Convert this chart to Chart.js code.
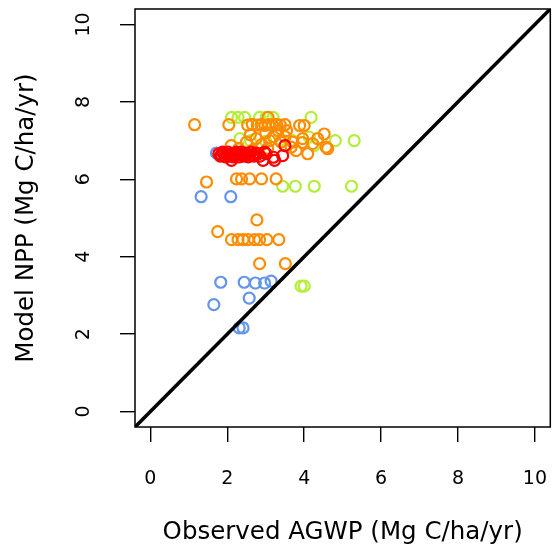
<!DOCTYPE html>
<html><head><meta charset="utf-8">
<script src="https://cdn.jsdelivr.net/npm/chart.js@4.4.1/dist/chart.umd.min.js"></script>
<style>html,body{margin:0;padding:0;background:#fff;overflow:hidden}</style>
</head><body>
<canvas id="c" width="558" height="557"></canvas>
<script>
const xTickValues = [0, 2, 4, 6, 8, 10];
const yTickValues = [0, 2, 4, 6, 8, 10];
const axisMin = -0.4, axisMax = 10.4;
const xTitle = 'Observed AGWP (Mg C/ha/yr)';
const yTitle = 'Model NPP (Mg C/ha/yr)';

const blueX = [1.32, 2.09, 1.72, 1.83, 2.44, 2.73, 2.97, 3.14, 2.57, 1.65, 2.31, 2.41];
const blueY = [5.55, 5.55, 6.68, 3.34, 3.34, 3.32, 3.32, 3.37, 2.93, 2.76, 2.16, 2.16];

const greenX = [2.11, 2.28, 2.45, 2.84, 3.01, 3.19, 4.18, 2.33, 2.6, 3.0, 3.4, 3.7, 4.13, 4.26, 4.81, 5.30, 3.44, 3.77, 4.26, 5.23, 3.92, 4.0];
const greenY = [7.6, 7.6, 7.6, 7.6, 7.6, 7.6, 7.6, 7.05, 7.0, 6.98, 7.02, 7.0, 7.09, 6.87, 7.0, 7.0, 5.82, 5.82, 5.82, 5.82, 3.24, 3.24];

const orangeX = [1.15, 2.04, 2.53, 2.65, 2.78, 2.88, 2.98, 3.08, 3.18, 3.28, 3.38, 3.5, 3.88, 4.0, 3.06, 3.32, 3.54, 3.96, 4.52, 2.1,
  2.5, 2.75, 3.1, 3.4, 3.7, 4.22, 4.35, 4.57, 4.09, 3.79, 3.66, 4.61, 2.3, 2.9, 3.2, 2.6, 3.0, 3.5, 3.95, 2.35,
  2.65, 3.05, 1.46, 2.24, 2.37, 2.58, 2.89, 3.27, 2.77, 1.75, 2.11, 2.28, 2.41, 2.54, 2.71, 2.84, 3.03, 3.34, 2.84, 3.51];
const orangeY = [7.41, 7.41, 7.4, 7.42, 7.4, 7.41, 7.39, 7.41, 7.4, 7.42, 7.4, 7.41, 7.39, 7.39, 7.6, 7.26, 7.26, 7.05, 7.17, 6.87,
  6.96, 7.05, 7.0, 6.96, 6.96, 6.92, 7.05, 6.83, 6.66, 6.74, 6.83, 6.79, 6.8, 6.9, 7.1, 7.15, 7.2, 7.1, 6.95, 6.7,
  6.75, 6.8, 5.93, 6.01, 6.01, 6.01, 6.01, 6.01, 4.95, 4.65, 4.44, 4.44, 4.44, 4.44, 4.44, 4.44, 4.44, 4.44, 3.82, 3.82];

const redX = [1.78, 1.85, 1.92, 1.98, 2.05, 2.12, 2.2, 2.28, 2.35, 2.42, 2.5, 2.58, 2.66, 2.75, 2.85, 2.11, 2.97, 2.93, 3.01, 3.2, 3.23, 3.44, 3.5,
  1.82, 1.88, 1.95, 2.02, 2.08, 2.15, 2.24, 2.31, 2.38, 2.46, 2.54, 2.62, 2.7, 2.8];
const redY = [6.66, 6.62, 6.68, 6.64, 6.6, 6.66, 6.62, 6.64, 6.7, 6.6, 6.66, 6.62, 6.64, 6.68, 6.6, 6.49, 6.70, 6.49, 6.66, 6.57, 6.49, 6.61, 6.87,
  6.6, 6.7, 6.58, 6.7, 6.64, 6.58, 6.7, 6.58, 6.64, 6.68, 6.58, 6.7, 6.6, 6.66];

const toPts = (xs, ys) => xs.map((x, i) => ({x: x, y: ys[i]}));
const oneToOne = [{x: axisMin, y: axisMin}, {x: axisMax, y: axisMax}];

const FONT = 'DejaVu Sans';
const ptStyle = c => ({pointStyle: 'circle', pointRadius: 5.5, pointHoverRadius: 5.5, pointBorderWidth: 2.2,
  borderColor: c, pointBorderColor: c, backgroundColor: 'rgba(0,0,0,0)', pointBackgroundColor: 'rgba(0,0,0,0)', showLine: false});

const boxPlugin = {
  id: 'box',
  afterDatasetsDraw(chart) {
    const {ctx, chartArea: a} = chart;
    ctx.save();
    ctx.strokeStyle = '#000';
    ctx.lineWidth = 1.5;
    ctx.strokeRect(a.left, a.top, a.right - a.left, a.bottom - a.top);
    ctx.restore();
  }
};

new Chart(document.getElementById('c'), {
  type: 'scatter',
  data: {
    datasets: [
      {data: oneToOne, showLine: true, borderColor: '#000', borderWidth: 3.6, pointRadius: 0, fill: false},
      Object.assign({data: toPts(redX, redY)}, ptStyle('#FF0000')),
      Object.assign({data: toPts(orangeX, orangeY)}, ptStyle('#FF8C00')),
      Object.assign({data: toPts(greenX, greenY)}, ptStyle('#B3EE3A')),
      Object.assign({data: toPts(blueX, blueY)}, ptStyle('#6495ED'))
    ]
  },
  options: {
    responsive: false,
    animation: false,
    layout: {padding: {left: 0, right: 6, top: 9, bottom: 0}},
    plugins: {legend: {display: false}, tooltip: {enabled: false}},
    scales: {
      x: {
        type: 'linear', min: axisMin, max: axisMax,
        afterBuildTicks: s => { s.ticks = xTickValues.map(v => ({value: v})); },
        afterFit: s => { s.height = 130; s.paddingLeft = 0; s.paddingRight = 0; },
        border: {display: false},
        grid: {drawOnChartArea: false, drawTicks: true, tickLength: 15, color: '#000', lineWidth: 1.4},
        ticks: {color: '#000', font: {family: FONT, size: 19}, padding: 26, maxRotation: 0, minRotation: 0, autoSkip: false},
        title: {display: true, text: xTitle, color: '#000', font: {family: FONT, size: 24.5}, padding: {top: 0, bottom: 10}}
      },
      y: {
        type: 'linear', min: axisMin, max: axisMax,
        afterBuildTicks: s => { s.ticks = yTickValues.map(v => ({value: v})); },
        afterFit: s => { s.width = 135; s.paddingTop = 0; s.paddingBottom = 0; },
        border: {display: false},
        grid: {drawOnChartArea: false, drawTicks: true, tickLength: 15, color: '#000', lineWidth: 1.4},
        ticks: {color: '#000', font: {family: FONT, size: 19}, padding: 24, minRotation: 90, maxRotation: 90, crossAlign: 'center', autoSkip: false},
        title: {display: true, text: yTitle, color: '#000', font: {family: FONT, size: 24.5}, padding: {top: 12, bottom: 12}}
      }
    }
  },
  plugins: [boxPlugin]
});
</script>
</body></html>
